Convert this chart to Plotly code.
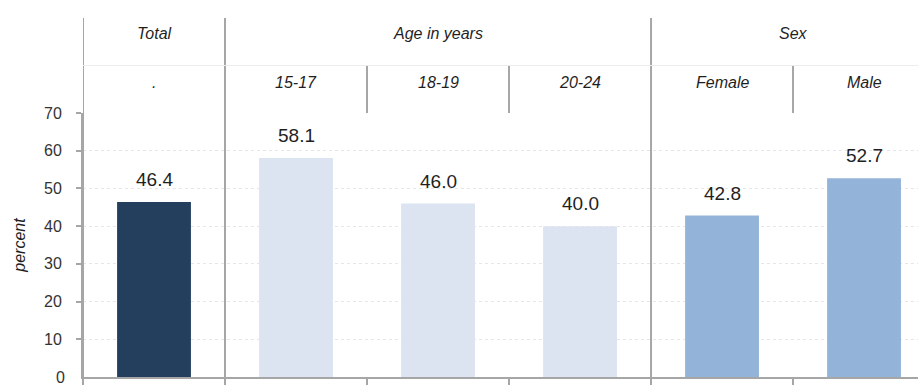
import plotly.graph_objects as go

# Data
categories = ["Total", "15-17", "18-19", "20-24", "Female", "Male"]
sub_labels = [".", "15-17", "18-19", "20-24", "Female", "Male"]
group_labels = ["Total", "Age in years", "Sex"]
group_centers = [0, 2, 4.5]
values = [46.4, 58.1, 46.0, 40.0, 42.8, 52.7]
bar_colors = ["#243f5e", "#dce3f1", "#dce3f1", "#dce3f1", "#93b3d8", "#93b3d8"]
y_ticks = [0, 10, 20, 30, 40, 50, 60, 70]

FONT = "Liberation Sans Narrow, Arial Narrow, Liberation Sans, Arial, sans-serif"
LINE = "#a6a6a6"
TXT = "#1f1f1f"

x = list(range(len(categories)))

fig = go.Figure()
fig.add_trace(go.Bar(
    x=x, y=values, marker=dict(color=bar_colors, line=dict(width=0)),
    width=0.52, hoverinfo="skip", showlegend=False,
))

# Value labels above bars
annotations = []
for xi, v in zip(x, values):
    annotations.append(dict(
        x=xi, y=v, xref="x", yref="y", text=f"{v:.1f}", showarrow=False,
        yanchor="bottom", yshift=10, font=dict(family=FONT, size=19, color=TXT),
    ))

# Header table: group row and sub-category row
ROW1_Y = 1.30
ROW2_Y = 1.116
for c, lab in zip(group_centers, group_labels):
    annotations.append(dict(
        x=c, y=ROW1_Y, xref="x", yref="paper", yanchor="middle", text=f"<i>{lab}</i>",
        showarrow=False, font=dict(family=FONT, size=16, color=TXT),
    ))
for xi, lab in zip(x, sub_labels):
    annotations.append(dict(
        x=xi, y=ROW2_Y, xref="x", yref="paper", yanchor="middle", text=f"<i>{lab}</i>",
        showarrow=False, font=dict(family=FONT, size=16, color=TXT),
    ))

# Chart title (runs off the top edge)
annotations.append(dict(
    x=0, y=1.0, xref="paper", yref="paper", xanchor="left", yanchor="bottom",
    xshift=-63, yshift=115,
    text="<b>Figure 3. Youth in temporary employment, by age and sex</b>",
    showarrow=False, font=dict(family="Liberation Sans, Arial, sans-serif", size=15, color="#111"),
))

# Zero label at the bottom edge of the axis
annotations.append(dict(
    x=0, y=0, xref="paper", yref="y", xanchor="right", yanchor="middle", xshift=-16,
    text="0", showarrow=False, font=dict(family=FONT, size=16, color="#333"),
))

TOP = 1.3596   # top of header table
MID = 1.18     # boundary between header rows
shapes = []
# full-height separators (left edge and group boundaries)
for xs in [-0.5, 0.5, 3.5]:
    shapes.append(dict(type="line", xref="x", yref="paper", x0=xs, x1=xs,
                       y0=0, y1=TOP, line=dict(color=LINE, width=2)))
# sub-category separators in header only
for xs in [1.5, 2.5, 4.5]:
    shapes.append(dict(type="line", xref="x", yref="paper", x0=xs, x1=xs,
                       y0=1.0, y1=MID, line=dict(color=LINE, width=2)))
# faint rule between header rows
shapes.append(dict(type="line", xref="x", yref="paper", x0=-0.5, x1=5.4,
                   y0=MID, y1=MID, line=dict(color="#ececec", width=1)))

fig.update_layout(
    width=918, height=385,
    margin=dict(l=83, r=0, t=113, b=5, pad=0),
    paper_bgcolor="white", plot_bgcolor="white",
    bargap=0.48,
    annotations=annotations, shapes=shapes,
    xaxis=dict(
        range=[-0.5, 5.38], tickvals=[-0.5, 0.5, 1.5, 2.5, 3.5, 4.5, 5.5],
        showticklabels=False, ticks="outside", ticklen=8, tickcolor=LINE, tickwidth=2,
        showline=True, linecolor=LINE, linewidth=2, showgrid=False, zeroline=False,
        fixedrange=True,
    ),
    yaxis=dict(
        range=[0, 70], tickvals=y_ticks[1:], ticks="outside", ticklen=5, tickcolor=LINE,
        tickwidth=1.5, showline=True, linecolor=LINE, linewidth=2,
        showgrid=True, gridcolor="#e6e6e6", gridwidth=1, griddash="dot", zeroline=False,
        tickfont=dict(family=FONT, size=16, color="#333"), ticklabelstandoff=11,
        title=dict(text="<i>percent</i>", font=dict(family=FONT, size=16, color=TXT), standoff=14),
        fixedrange=True,
    ),
)

fig.write_html("out.html")
